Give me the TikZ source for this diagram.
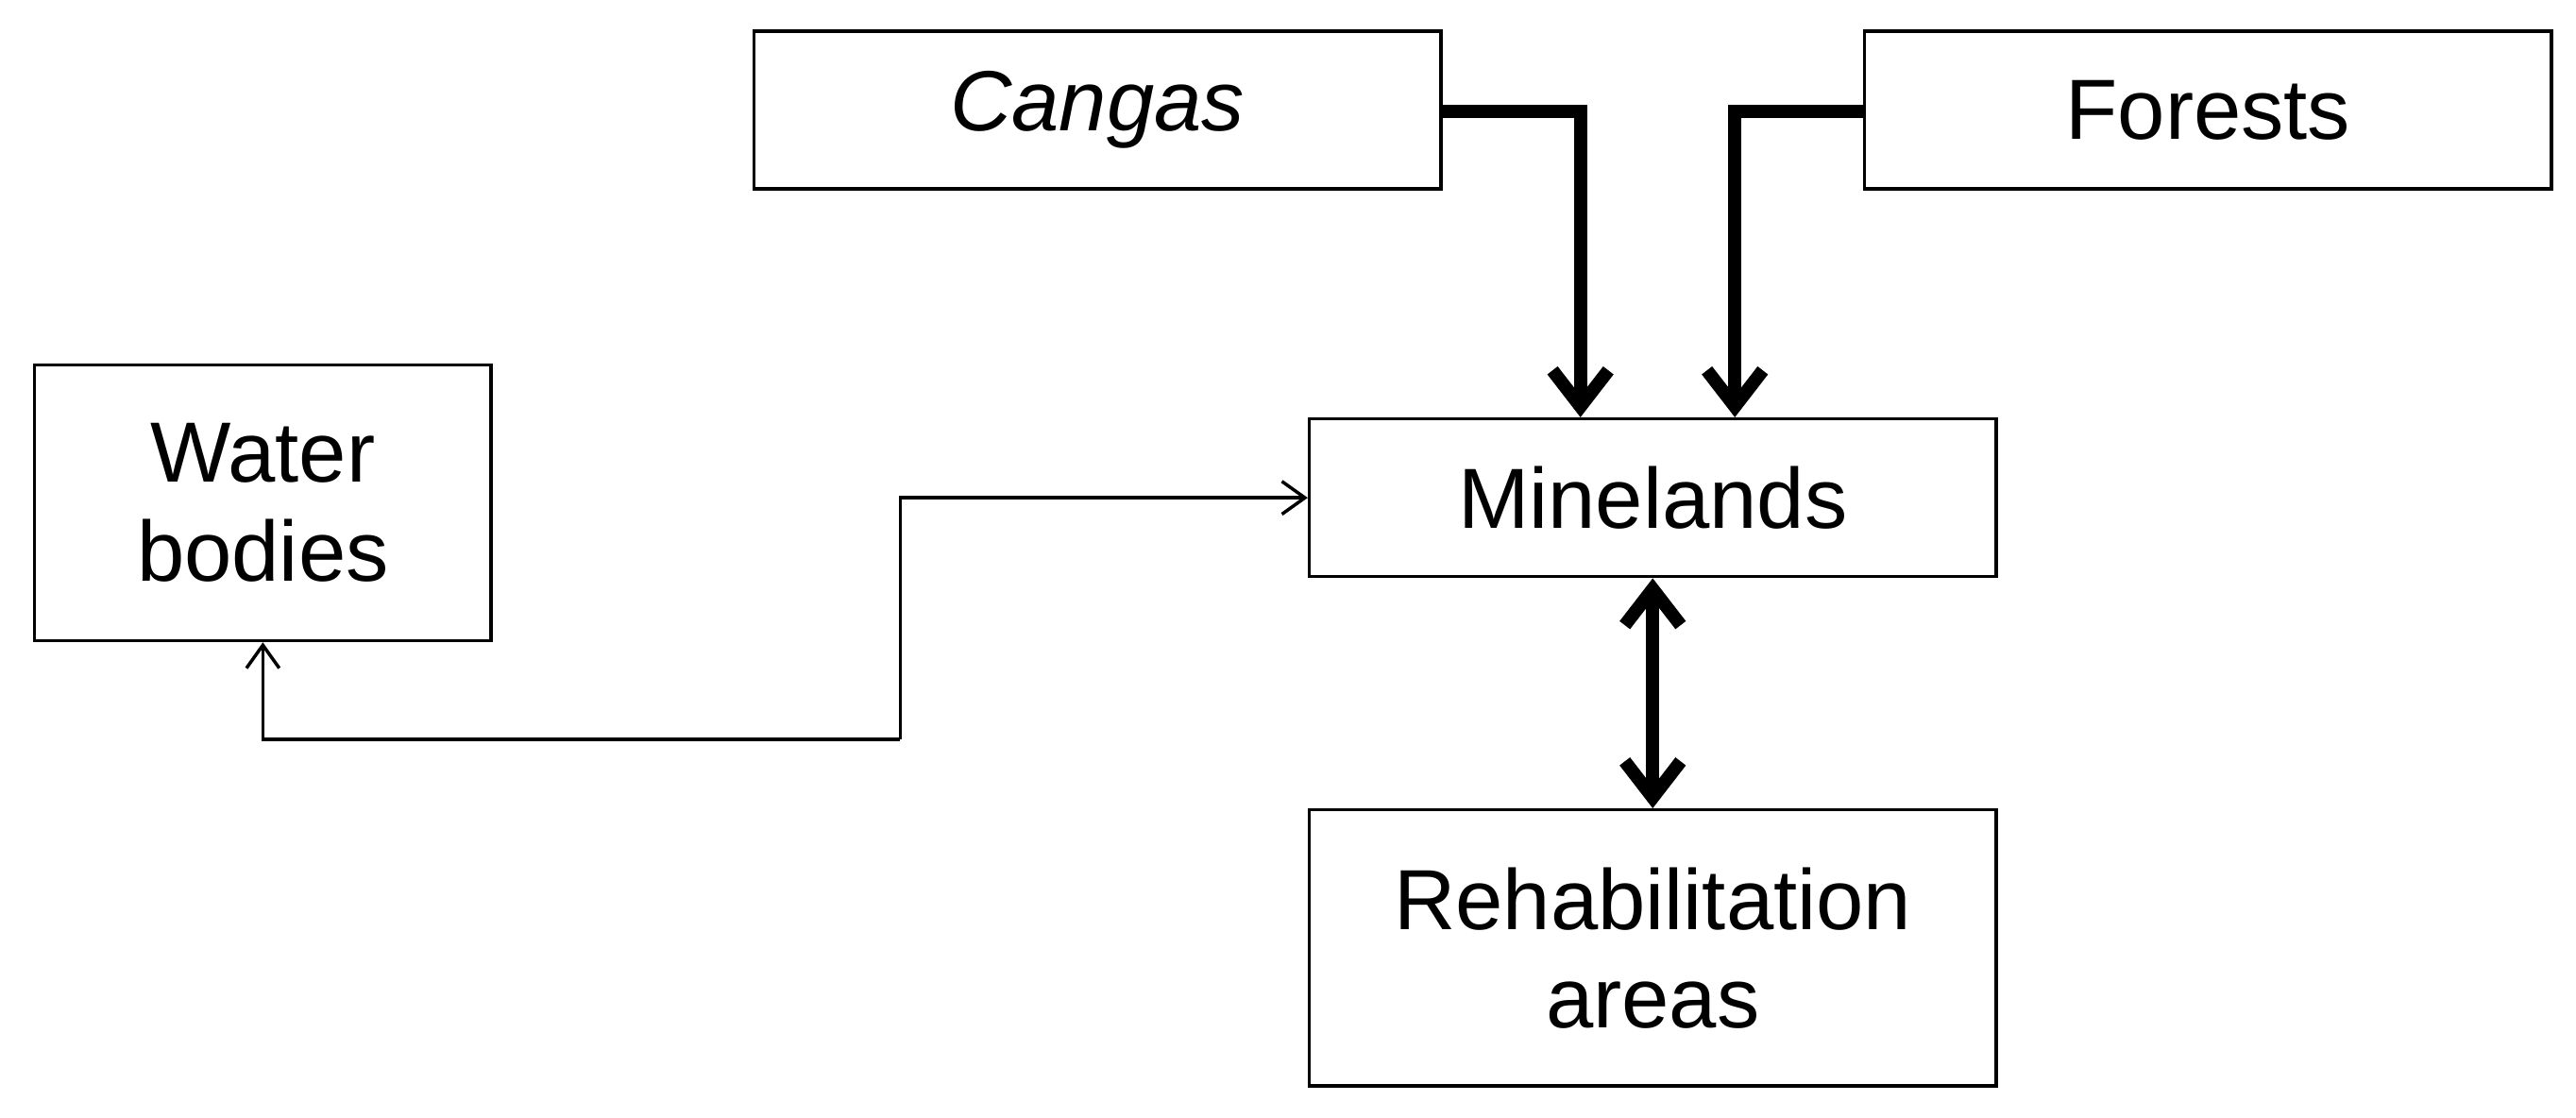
\documentclass[tikz,border=0pt]{standalone}
\usepackage{fontspec}
\setmainfont{Liberation Sans}
\usetikzlibrary{arrows.meta}
\begin{document}
\begin{tikzpicture}[x=0.5pt,y=-0.5pt,
  box/.style={draw,line width=1pt,inner sep=0pt,align=center,font=\fontsize{26}{30}\selectfont},
  thick arrow/.style={line width=4pt,-{Straight Barb[length=11pt,width=17pt,line width=4pt]}},
  thin arrow/.style={line width=1pt,-{Straight Barb[length=7pt,width=10pt]}}]
\useasboundingbox (0,0) rectangle (1568,680);
\node[box,minimum width=209pt,minimum height=48pt] (cangas) at (668,67) {\textit{Cangas}};
\node[box,minimum width=209pt,minimum height=48pt] (forests) at (1344,67) {Forests};
\node[box,minimum width=139pt,minimum height=84pt] (water) at (160,306) {Water\\bodies};
\node[box,minimum width=209pt,minimum height=48pt] (mine) at (1006,303) {Minelands};
\node[box,minimum width=209pt,minimum height=84pt] (rehab) at (1006,577) {Rehabilitation\\areas};
\draw[thick arrow] (cangas.east|-0,68) -| (962,0|-mine.north);
\draw[thick arrow] (forests.west|-0,68) -| (1056,0|-mine.north);
\draw[line width=4pt,{Straight Barb[length=11pt,width=17pt,line width=4pt]}-{Straight Barb[length=11pt,width=17pt,line width=4pt]}] (mine.south) -- (rehab.north);
\coordinate (c1) at (548,450);
\draw[thin arrow] (c1) |- (mine.west);
\draw[thin arrow] (c1) -| (water.south);
\end{tikzpicture}
\end{document}
